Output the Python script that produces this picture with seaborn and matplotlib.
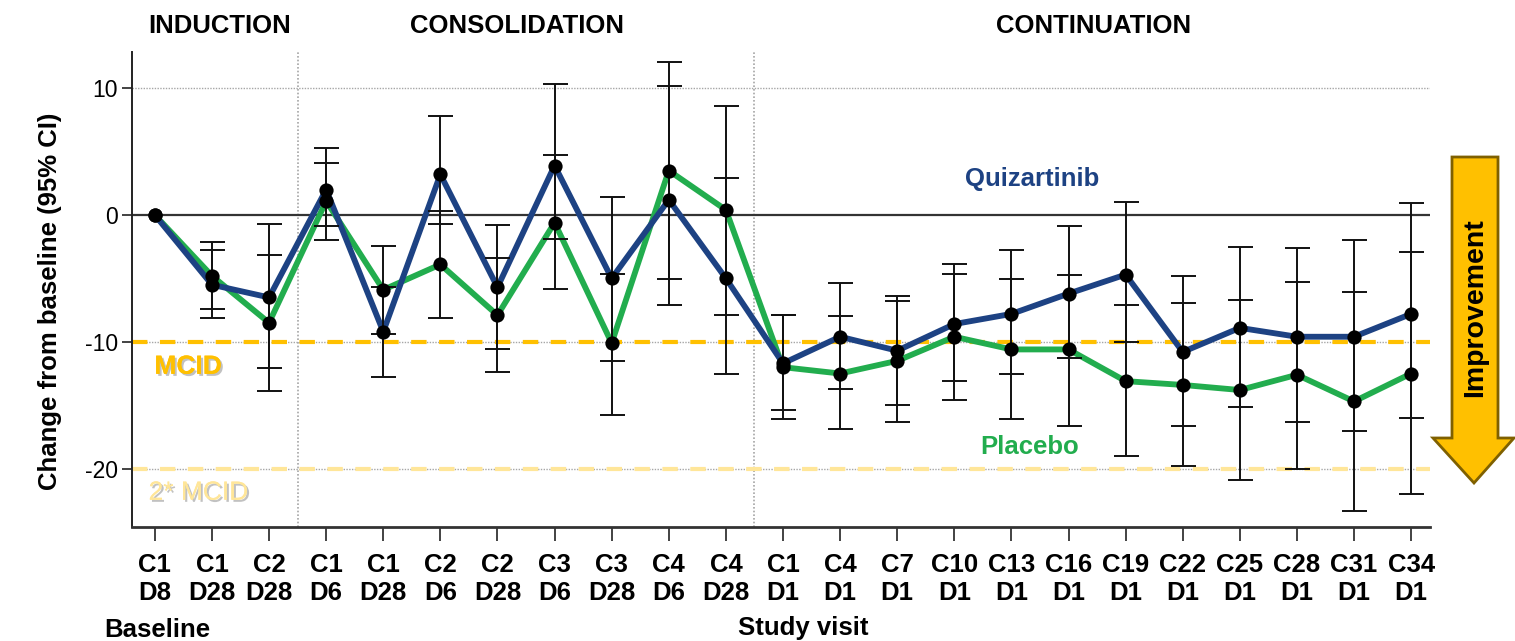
import numpy as np
import pandas as pd
import matplotlib
matplotlib.use("Agg")
import matplotlib.pyplot as plt
import matplotlib.transforms as mtransforms
import matplotlib.patheffects as pe
from matplotlib.patches import Polygon
from matplotlib import font_manager
import seaborn as sns

# ---- data -------------------------------------------------------------
visits = ["C1\nD8", "C1\nD28", "C2\nD28",
          "C1\nD6", "C1\nD28", "C2\nD6", "C2\nD28", "C3\nD6", "C3\nD28",
          "C4\nD6", "C4\nD28",
          "C1\nD1", "C4\nD1", "C7\nD1", "C10\nD1", "C13\nD1", "C16\nD1",
          "C19\nD1", "C22\nD1", "C25\nD1", "C28\nD1", "C31\nD1", "C34\nD1"]

quiz_mean = [0.0, -5.5, -6.5, 2.0, -9.2, 3.2, -5.7, 3.9, -5.0, 1.2, -5.0,
             -11.7, -9.6, -10.7, -8.6, -7.8, -6.2, -4.7, -10.8, -8.9,
             -9.6, -9.6, -7.8]
quiz_lo = [0.0, -8.1, -12.1, -0.9, -12.8, -0.7, -10.55, -1.9, -11.5, -7.1,
           -12.5, -15.4, -13.7, -15.0, -13.1, -12.5, -11.3, -10.0, -16.6,
           -15.1, -16.35, -17.05, -16.0]
quiz_hi = [0.0, -2.8, -0.7, 5.25, -5.7, 7.8, -0.8, 10.3, 1.4, 10.2, 2.95,
           -7.9, -5.4, -6.35, -3.9, -2.8, -0.9, 1.05, -4.85, -2.55, -2.6,
           -1.95, 0.95]

plac_mean = [0.0, -4.8, -8.5, 1.1, -5.9, -3.9, -7.9, -0.6, -10.1, 3.5, 0.4,
             -12.0, -12.5, -11.5, -9.6, -10.6, -10.6, -13.1, -13.4, -13.8,
             -12.6, -14.7, -12.5]
plac_lo = [0.0, -7.4, -13.9, -1.95, -9.4, -8.1, -12.4, -5.85, -15.8, -5.05,
           -7.85, -16.1, -16.9, -16.3, -14.6, -16.1, -16.6, -19.0, -19.8,
           -20.9, -20.0, -23.3, -22.0]
plac_hi = [0.0, -2.1, -3.15, 4.1, -2.45, 0.35, -3.4, 4.7, -4.65, 12.1, 8.6,
           -7.9, -8.0, -6.8, -4.65, -5.05, -4.75, -7.1, -6.95, -6.7, -5.3,
           -6.05, -2.95]

arms = ["Placebo", "Quizartinib"]
arm_colors = {"Quizartinib": "#1d4283", "Placebo": "#22ad4e"}

phases = ["INDUCTION", "CONSOLIDATION", "CONTINUATION"]
phase_label_x = [1.14, 6.34, 16.44]
phase_breaks = [2.5, 10.5]

mcid = -10
mcid2 = -20

# ---- styling ----------------------------------------------------------
sns.set_style("ticks")
plt.rcParams["font.family"] = ["Liberation Sans", "DejaVu Sans"]
plt.rcParams.update({"text.color": "black", "axes.labelcolor": "black",
                     "xtick.color": "black", "ytick.color": "black"})
installed = {f.name for f in font_manager.fontManager.ttflist}
narrow = "Liberation Sans Narrow" if "Liberation Sans Narrow" in installed else "Liberation Sans"

W, H = 1515, 641
fig = plt.figure(figsize=(W / 100, H / 100), dpi=100)
ax = fig.add_axes([132 / W, 1 - 527 / H, (1430 - 132) / W, (527 - 52) / H])

pos = np.arange(len(visits))
df = pd.concat([
    pd.DataFrame({"pos": pos, "value": plac_mean, "arm": "Placebo"}),
    pd.DataFrame({"pos": pos, "value": quiz_mean, "arm": "Quizartinib"}),
], ignore_index=True)

# reference lines
for yv in (10, -10, -20):
    ax.axhline(yv, color="#a6a6a6", lw=1.0, ls=(0, (1, 1)), zorder=0.5)
ax.axhline(0, color="#333333", lw=1.6, zorder=0.6)
for xb in phase_breaks:
    ax.axvline(xb, color="#a6a6a6", lw=1.2, ls=(0, (1, 1.2)), zorder=0.5)
ax.axhline(mcid, color="#ffc000", lw=3.0, ls=(0, (3.7, 3.0)), zorder=0.8)
ax.axhline(mcid2, color="#ffe699", lw=3.0, ls=(0, (3.7, 3.0)), zorder=0.8)

# mean change lines
sns.lineplot(data=df, x="pos", y="value", hue="arm", hue_order=arms,
             palette=arm_colors, linewidth=4.2, estimator=None, sort=False,
             legend=False, ax=ax, zorder=2)

# 95% CI whiskers
for mean, lo, hi in ((plac_mean, plac_lo, plac_hi),
                     (quiz_mean, quiz_lo, quiz_hi)):
    m = np.asarray(mean)
    yerr = np.vstack([m - np.asarray(lo), np.asarray(hi) - m])
    ax.errorbar(pos[1:], m[1:], yerr=yerr[:, 1:], fmt="none", ecolor="#111111",
                elinewidth=1.4, capsize=9, capthick=1.4, zorder=3)

# point estimates
sns.scatterplot(data=df, x="pos", y="value", color="black", s=105,
                linewidth=0, legend=False, ax=ax, zorder=4)

# axes
ax.set_xlim(-0.4, 22.33)
ax.set_ylim(-24.6, 12.85)
ax.set_xticks(pos)
ax.set_xticklabels(visits, fontsize=18.5, fontweight="bold", linespacing=1.2)
ax.set_yticks([10, 0, -10, -20])
ax.set_yticklabels(["10", "0", "-10", "-20"], fontsize=16.5, family=narrow)
ax.tick_params(axis="x", length=10, width=1.2, pad=9, color="#222222")
ax.tick_params(axis="y", length=7, width=1.2, pad=3, color="#222222")
ax.set_xlabel("")
ax.set_ylabel("")
sns.despine(ax=ax)
ax.spines["left"].set_linewidth(1.4)
ax.spines["left"].set_color("#222222")
ax.spines["bottom"].set_linewidth(2.0)
ax.spines["bottom"].set_color("#333333")

# phase headings
trans = mtransforms.blended_transform_factory(ax.transData, fig.transFigure)
for name, xp in zip(phases, phase_label_x):
    ax.text(xp, 1 - 26 / H, name, transform=trans, ha="center", va="center",
            fontsize=18.5, fontweight="bold", color="black", clip_on=False)

# arm labels
ax.text(15.36, 2.83, "Quizartinib", ha="center", va="center", fontsize=18.5,
        fontweight="bold", color="#1d4283")
ax.text(15.32, -18.27, "Placebo", ha="center", va="center", fontsize=18.5,
        fontweight="bold", color="#22ad4e")

# MCID labels
shadow = [pe.withSimplePatchShadow(offset=(1.5, -1.5), shadow_rgbFace="#777777",
                                   alpha=0.45), pe.Normal()]
ax.text(0.58, -11.97, "MCID", ha="center", va="center", fontsize=19,
        fontweight="bold", color="#ffc000", path_effects=shadow)
ax.text(-0.11, -21.9, "2* MCID", ha="left", va="center", fontsize=19,
        color="#ffe699", path_effects=shadow)

# axis titles
fig.text(50 / W, 1 - 301 / H, "Change from baseline (95% CI)", rotation=90,
         ha="center", va="center", fontsize=18.5, fontweight="bold")
fig.text(157 / W, 1 - 630 / H, "Baseline", ha="center", va="center",
         fontsize=18.5, fontweight="bold")
fig.text(803 / W, 1 - 628 / H, "Study visit", ha="center", va="center",
         fontsize=18.5, fontweight="bold")

# improvement arrow
arrow_px = [(1452, 157), (1498, 157), (1498, 438), (1514, 438), (1474, 483),
            (1433, 438), (1452, 438)]
arrow = Polygon([(x / W, 1 - y / H) for x, y in arrow_px], closed=True,
                transform=fig.transFigure, facecolor="#ffc000",
                edgecolor="#7f6000", linewidth=2.0, zorder=5)
fig.patches.append(arrow)
fig.text(1475 / W, 1 - 308 / H, "Improvement", rotation=90, ha="center",
         va="center", fontsize=20.5, fontweight="bold", color="black", zorder=6)

fig.savefig("out.png", dpi=100)
